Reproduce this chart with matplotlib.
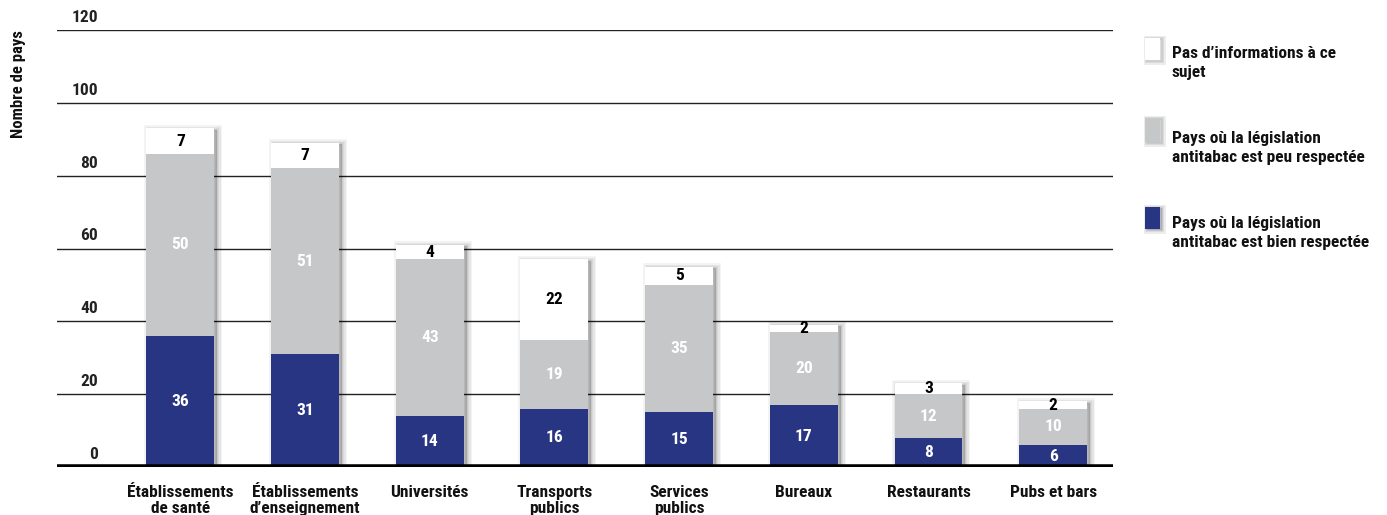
import matplotlib
matplotlib.use('Agg')
import matplotlib.pyplot as plt
import matplotlib.patheffects as pe
import numpy as np

categories = ["Établissements\nde santé", "Établissements\nd’enseignement", "Universités",
              "Transports\npublics", "Services\npublics", "Bureaux", "Restaurants", "Pubs et bars"]
bien = [36, 31, 14, 16, 15, 17, 8, 6]
peu = [50, 51, 43, 19, 35, 20, 12, 10]
sans_info = [7, 7, 4, 22, 5, 2, 3, 2]
legend_labels = ["Pas d’informations à ce\nsujet",
                 "Pays où la législation\nantitabac est peu respectée",
                 "Pays où la législation\nantitabac est bien respectée"]
yticks = [0, 20, 40, 60, 80, 100, 120]

BLUE = "#283583"
GRAY = "#c6c7c8"

plt.rcParams['font.family'] = ['Roboto Condensed', 'Liberation Sans Narrow', 'Roboto', 'DejaVu Sans']
plt.rcParams['font.weight'] = 'bold'

fig = plt.figure(figsize=(13.87, 5.15), dpi=100)
ax = fig.add_axes([57/1387, 1 - 467/515, (1113 - 57)/1387, (467 - 30)/515])

x = np.arange(len(categories))
w = 0.545
total = np.array(bien) + np.array(peu) + np.array(sans_info)
bottom3 = np.array(bien) + np.array(peu)


def soft_shadow(dx, dy, widths, alpha):
    return [pe.Stroke(offset=(dx, dy), linewidth=lw, foreground='black', alpha=alpha) for lw in widths]


# blurred drop shadow behind each full stack
ax.bar(x, total, w, color='black', zorder=2, linewidth=0,
       path_effects=soft_shadow(2, -1, [7, 5, 3, 1.5], 0.05))

ax.bar(x, bien, w, color=BLUE, zorder=3)
ax.bar(x, peu, w, bottom=bien, color=GRAY, zorder=3)
ax.bar(x, sans_info, w, bottom=bottom3, color='white', zorder=3)

for i in range(len(x)):
    ax.text(x[i], bien[i] / 2, str(bien[i]), ha='center', va='center', color='white', fontsize=12.5, zorder=5)
    ax.text(x[i], bien[i] + peu[i] / 2, str(peu[i]), ha='center', va='center', color='white', fontsize=12.5, zorder=5)
    ax.text(x[i], bottom3[i] + sans_info[i] / 2, str(sans_info[i]), ha='center', va='center', color='black',
            fontsize=12.5, zorder=5)

ax.set_xlim(-0.99, 7.48)
ax.set_ylim(0, 120)
for yv in yticks[1:]:
    ax.axhline(yv, color='#222222', lw=1, zorder=1)
ax.axhline(0, color='black', lw=4, zorder=4)
for yv in yticks:
    ax.text(-0.66, yv + 1.4, str(yv), ha='right', va='bottom', fontsize=12.5, color='#222222')

for s in ax.spines.values():
    s.set_visible(False)
ax.set_xticks([])
ax.set_yticks([])

for i, c in enumerate(categories):
    ax.text(x[i], -4.9, c, ha='center', va='top', fontsize=12.5, color='#111111', linespacing=1.12, clip_on=False)

fig.text(19/1387, 1 - 84/515, "Nombre de pays", rotation=90, ha='center', va='center', fontsize=12, color='#111111')

# legend
leg_text_y = [63, 148, 233]
leg_sq = [(38, 22), (118, 24), (207, 22)]
leg_colors = ['white', GRAY, BLUE]
for ty, (sy, sh), col, lab in zip(leg_text_y, leg_sq, leg_colors, legend_labels):
    sq = plt.Rectangle((1145/1387, 1 - (sy + sh)/515), 15/1387, sh/515, transform=fig.transFigure,
                       facecolor=col, edgecolor='none',
                       path_effects=soft_shadow(1.5, -1, [5, 3, 1.5], 0.07) + [pe.Normal()])
    fig.patches.append(sq)
    fig.text(1172/1387, 1 - ty/515, lab, ha='left', va='center', fontsize=12.5, color='#111111',
             linespacing=1.35)

fig.savefig('out.png', dpi=100)
